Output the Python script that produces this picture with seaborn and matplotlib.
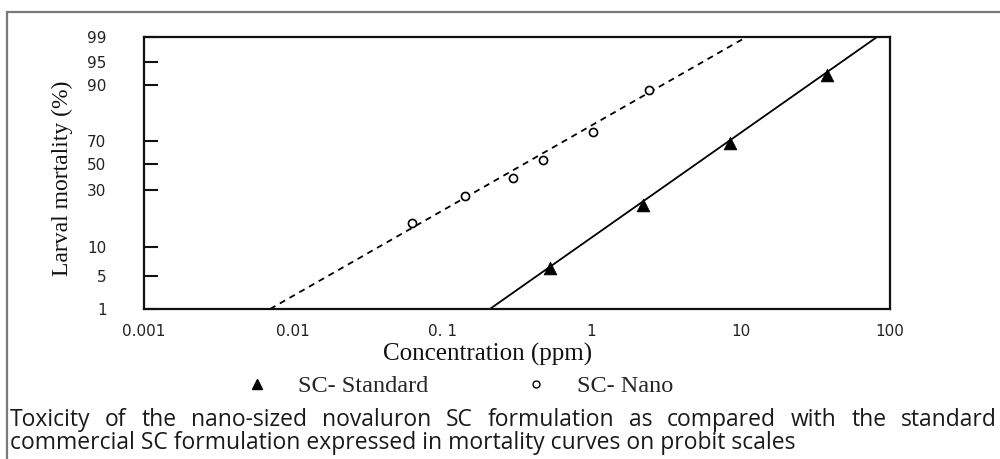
import numpy as np
import pandas as pd
import matplotlib
matplotlib.use("Agg")
import matplotlib.pyplot as plt
import seaborn as sns
from matplotlib.lines import Line2D
from matplotlib.patches import Rectangle
from matplotlib.ticker import FixedLocator, FixedFormatter, NullLocator

# ---------------- data ----------------
std_conc = [0.526, 2.21, 8.47, 37.8]
std_mort = [6.4, 24.7, 68.3, 92.2]
nano_conc = [0.0625, 0.142, 0.297, 0.472, 1.02, 2.43]
nano_mort = [18.4, 27.9, 39.2, 53.5, 73.2, 88.2]

std_fit_conc = [0.208, 81.8]
nano_fit_conc = [0.0070, 10.9]
fit_mort = [1, 99]

y_ticks = [1, 5, 10, 30, 50, 70, 90, 95, 99]
y_tick_labels = ["1", "5", "10", "30", "50", "70", "90", "95", "99"]
x_ticks = [0.001, 0.01, 0.1, 1, 10, 100]
x_tick_labels = ["0.001", "0.01", "0. 1", "1", "10", "100"]
series_labels = ["SC- Standard", "SC- Nano"]
x_label = "Concentration (ppm)"
y_label = "Larval mortality (%)"
caption_line1 = "Toxicity of the nano-sized novaluron SC formulation as compared with the standard"
caption_line2 = "commercial SC formulation expressed in mortality curves on probit scales"

# relative spacing of the printed probit grid marks (scale definition)
probit_pos = [0, 33, 62, 119, 145, 168, 224, 247, 272]

# ---------------- figure ----------------
sns.set_theme(style="white")
plt.rcParams["font.family"] = ["DejaVu Sans"]

W, H = 1000, 459
fig = plt.figure(figsize=(W / 100, H / 100), dpi=100)
ax = fig.add_axes([144 / W, 1 - 309 / H, (890 - 144) / W, (309 - 37) / H])

ax.set_xscale("log")
ax.set_yscale("function",
              functions=(lambda v: np.interp(v, y_ticks, probit_pos),
                         lambda p: np.interp(p, probit_pos, y_ticks)))

std_fit = pd.DataFrame({"conc": std_fit_conc, "mort": fit_mort})
nano_fit = pd.DataFrame({"conc": nano_fit_conc, "mort": fit_mort})
std_df = pd.DataFrame({"conc": std_conc, "mort": std_mort})
nano_df = pd.DataFrame({"conc": nano_conc, "mort": nano_mort})

sns.lineplot(data=std_fit, x="conc", y="mort", ax=ax, color="black",
             linewidth=1.3, estimator=None, sort=False)
sns.lineplot(data=nano_fit, x="conc", y="mort", ax=ax, color="black",
             linewidth=1.3, linestyle=(0, (3.4, 2.8)), estimator=None, sort=False)
sns.scatterplot(data=std_df, x="conc", y="mort", ax=ax, marker="^", s=85,
                color="black", edgecolor="black", linewidth=0.5, zorder=4)
sns.scatterplot(data=nano_df, x="conc", y="mort", ax=ax, marker="o", s=34,
                facecolor="white", edgecolor="black", linewidth=1.2, zorder=4)

ax.set_xlim(0.001, 100)
ax.set_ylim(1, 99)
ax.xaxis.set_major_locator(FixedLocator(x_ticks))
ax.xaxis.set_major_formatter(FixedFormatter(x_tick_labels))
ax.xaxis.set_minor_locator(NullLocator())
ax.yaxis.set_major_locator(FixedLocator(y_ticks))
ax.yaxis.set_major_formatter(FixedFormatter(y_tick_labels))
ax.yaxis.set_minor_locator(NullLocator())

for s in ax.spines.values():
    s.set_visible(True)
    s.set_color("#111111")
    s.set_linewidth(1.6)

ax.tick_params(axis="y", direction="in", length=10, width=1.5, color="#111111",
               pad=27, labelsize=11, labelcolor="#222222", left=True)
ax.tick_params(axis="x", length=0, pad=11, labelsize=11, labelcolor="#222222", bottom=True)

serif = ["Liberation Serif", "DejaVu Serif"]
ax.set_xlabel(x_label, fontsize=18, family=serif, color="#111111")
ax.set_ylabel(y_label, fontsize=17, family=serif, color="#111111")
ax.xaxis.set_label_coords((488 - 144) / 746, (309 - 343) / 272)
ax.yaxis.set_label_coords((73 - 144) / 746, (309 - 178) / 272)

# legend
handles = [Line2D([], [], marker="^", linestyle="none", color="black", markersize=7),
           Line2D([], [], marker="o", linestyle="none", markerfacecolor="white",
                  markeredgecolor="black", markeredgewidth=1.0, markersize=5)]
leg = fig.legend(handles, series_labels, loc="center", ncol=2, frameon=False,
                 bbox_to_anchor=(459 / W, 1 - 386 / H), handlelength=1.0,
                 handletextpad=1.2, columnspacing=3.9,
                 prop={"family": serif, "size": 17.5})

# outer frame (left + top edges visible)
fig.patches.append(Rectangle((7 / W, -0.2), 1.2, 1 - 12 / H + 0.2, transform=fig.transFigure,
                             fill=False, edgecolor="#7a7a7a", linewidth=1.6, clip_on=False))

# caption: first line justified across the frame, second line left aligned
cap_font = {"family": ["Open Sans", "DejaVu Sans"], "size": 16.5, "color": "#1a1a1a"}
x_left, x_right = 10, 997
y1, y2 = 1 - 426 / H, 1 - 449 / H
words = caption_line1.split(" ")
texts = [fig.text(0, y1, w_, ha="left", va="baseline", **cap_font) for w_ in words]
fig.text(x_left / W, y2, caption_line2, ha="left", va="baseline", **cap_font)
fig.canvas.draw()
r = fig.canvas.get_renderer()
widths = [t.get_window_extent(r).width for t in texts]
gap = ((x_right - x_left) - sum(widths)) / (len(words) - 1)
xpos = x_left
for t, wd in zip(texts, widths):
    t.set_x(xpos / W)
    xpos += wd + gap

fig.savefig("out.png", dpi=100)
